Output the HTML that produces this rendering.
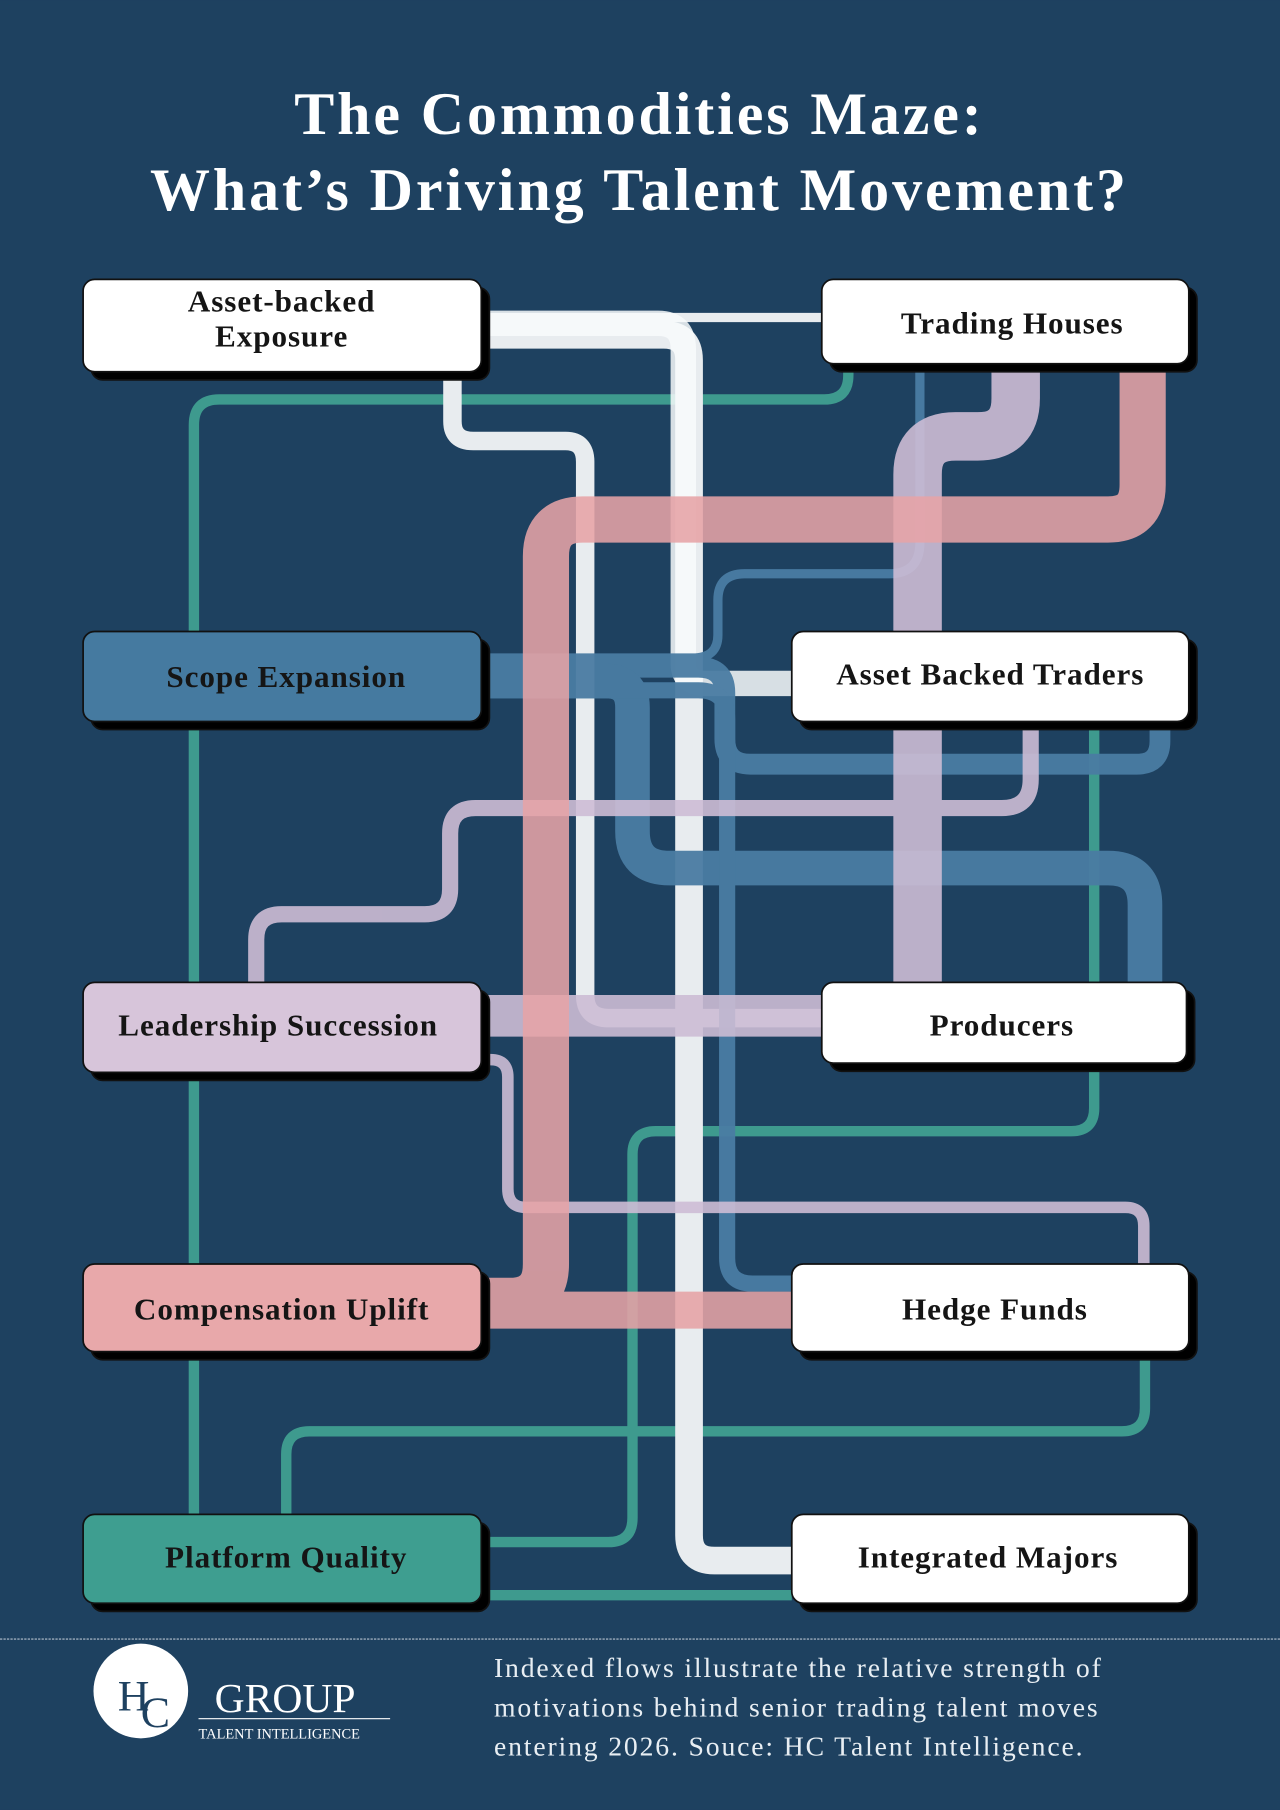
<!DOCTYPE html>
<html><head><meta charset="utf-8"><style>
html,body{margin:0;padding:0;background:#1e4160;}
svg{display:block;}
.lbl{font-family:"Liberation Serif",serif;font-weight:bold;font-size:27px;letter-spacing:0.8px;fill:#151515;text-anchor:middle;}
</style></head><body>
<svg width="1280" height="1810" viewBox="0 0 1109 1568" xmlns="http://www.w3.org/2000/svg">
<rect width="1109" height="1568" fill="#1e4160"/>
<text x="554" y="116" text-anchor="middle" font-family="Liberation Serif,serif" font-weight="bold" font-size="52" letter-spacing="2.5" fill="#fff">The Commodities Maze:</text>
<text x="554" y="182" text-anchor="middle" font-family="Liberation Serif,serif" font-weight="bold" font-size="52" letter-spacing="2.5" fill="#fff">What’s Driving Talent Movement?</text>

<g fill="none" stroke-linejoin="round">
<g stroke="#3e9a8e" stroke-width="9">
<path d="M735,315 V325 Q735,346 714,346 H190 Q168,346 168,368 V1312"/>
<path d="M948,625 V960 Q948,980 928,980 H568 Q548,980 548,1000 V1315 Q548,1336 527,1336 H417"/>
<path d="M992,1171 V1220 Q992,1240 972,1240 H268 Q248,1240 248,1260 V1312"/>
<path d="M417,1382 H686"/>
</g>
<g stroke="#e8ecef">
<path d="M417,275 H712" stroke-width="8"/>
<path d="M392,322 V365 Q392,382 410,382 H490 Q507,382 507,400 V862 Q507,882 527,882 H712" stroke-width="16"/>
<path d="M417,290 H575 Q597,290 597,312 V1330 Q597,1352 619,1352 H686" stroke-width="24"/>
<path d="M417,280 H570 Q592,280 592,302 V575 Q592,592 612,592 H686" stroke-width="22" stroke="#f8fbfb" opacity="0.85"/>
</g>
<g stroke="#4a7ca3" opacity="0.95">
<path d="M797,315 V470 Q797,497 770,497 H645 Q622,497 622,520 V550 Q622,570 600,570 H417" stroke-width="8"/>
<path d="M417,578 H605 Q628,578 628,600 V640 Q628,662 650,662 H985 Q1005,662 1005,642 V625" stroke-width="18"/>
<path d="M417,590 H525 Q548,590 548,613 V720 Q548,752 580,752 H960 Q992,752 992,784 V851" stroke-width="30"/>
<path d="M417,598 H605 Q630,598 630,623 V1090 Q630,1112 652,1112 H686" stroke-width="14"/>
</g>
<g stroke="#cdbdd5" opacity="0.9">
<path d="M880,315 V345 Q880,378 847,378 H828 Q795,378 795,411 V851" stroke-width="42"/>
<path d="M893,625 V675 Q893,700 868,700 H412 Q390,700 390,722 V770 Q390,792 368,792 H244 Q222,792 222,814 V851" stroke-width="14"/>
<path d="M417,880 H712" stroke-width="36"/>
<path d="M417,918 H425 Q440,918 440,933 V1030 Q440,1046 456,1046 H975 Q991,1046 991,1062 V1095" stroke-width="10"/>
</g>
<g stroke="#e6a3a6" opacity="0.88">
<path d="M990,315 V420 Q990,450 960,450 H505 Q473,450 473,482 V1095 Q473,1127 441,1127 H417" stroke-width="40"/>
<path d="M417,1135 H686" stroke-width="32"/>
</g>
</g>

<g stroke="#111" stroke-width="1.5">
<rect x="79" y="249" width="345" height="80" rx="10" fill="#000"/>
<rect x="72" y="242" width="345" height="80" rx="10" fill="#fff"/>
<rect x="719" y="249" width="318" height="73" rx="10" fill="#000"/>
<rect x="712" y="242" width="318" height="73" rx="10" fill="#fff"/>
<rect x="79" y="554" width="345" height="78" rx="10" fill="#000"/>
<rect x="72" y="547" width="345" height="78" rx="10" fill="#457aa0"/>
<rect x="693" y="554" width="344" height="78" rx="10" fill="#000"/>
<rect x="686" y="547" width="344" height="78" rx="10" fill="#fff"/>
<rect x="79" y="858" width="345" height="78" rx="10" fill="#000"/>
<rect x="72" y="851" width="345" height="78" rx="10" fill="#d7c5da"/>
<rect x="719" y="858" width="316" height="70" rx="10" fill="#000"/>
<rect x="712" y="851" width="316" height="70" rx="10" fill="#fff"/>
<rect x="79" y="1102" width="345" height="76" rx="10" fill="#000"/>
<rect x="72" y="1095" width="345" height="76" rx="10" fill="#e8a8aa"/>
<rect x="693" y="1102" width="344" height="76" rx="10" fill="#000"/>
<rect x="686" y="1095" width="344" height="76" rx="10" fill="#fff"/>
<rect x="79" y="1319" width="345" height="77" rx="10" fill="#000"/>
<rect x="72" y="1312" width="345" height="77" rx="10" fill="#3e9e90"/>
<rect x="693" y="1319" width="344" height="77" rx="10" fill="#000"/>
<rect x="686" y="1312" width="344" height="77" rx="10" fill="#fff"/>
</g>
<text class="lbl" x="244" y="270">Asset-backed</text>
<text class="lbl" x="244" y="300">Exposure</text>
<text class="lbl" x="877" y="289">Trading Houses</text>
<text class="lbl" x="248" y="595">Scope Expansion</text>
<text class="lbl" x="858" y="593">Asset Backed Traders</text>
<text class="lbl" x="241" y="897">Leadership Succession</text>
<text class="lbl" x="868" y="897">Producers</text>
<text class="lbl" x="244" y="1143">Compensation Uplift</text>
<text class="lbl" x="862" y="1143">Hedge Funds</text>
<text class="lbl" x="248" y="1358">Platform Quality</text>
<text class="lbl" x="856" y="1358">Integrated Majors</text>

<line x1="0" y1="1420" x2="1109" y2="1420" stroke="#b8c4cf" stroke-width="1" stroke-dasharray="2,1"/>
<circle cx="122" cy="1465" r="41" fill="#fff"/>
<text x="102" y="1482" font-family="Liberation Serif,serif" font-size="38" fill="#1e4160">H</text>
<text x="122" y="1496" font-family="Liberation Serif,serif" font-size="38" fill="#1e4160">C</text>
<text x="186" y="1483" font-family="Liberation Serif,serif" font-size="36" fill="#fff">GROUP</text>
<line x1="172" y1="1489" x2="338" y2="1489" stroke="#fff" stroke-width="1"/>
<text x="172" y="1506" font-family="Liberation Serif,serif" font-size="12.5" fill="#fff">TALENT INTELLIGENCE</text>
<g font-family="Liberation Serif,serif" font-size="24" fill="#e8eef3" letter-spacing="1.6">
<text x="428" y="1453">Indexed flows illustrate the relative strength of</text>
<text x="428" y="1487">motivations behind senior trading talent moves</text>
<text x="428" y="1521">entering 2026. Souce: HC Talent Intelligence.</text>
</g>
</svg>
</body></html>
